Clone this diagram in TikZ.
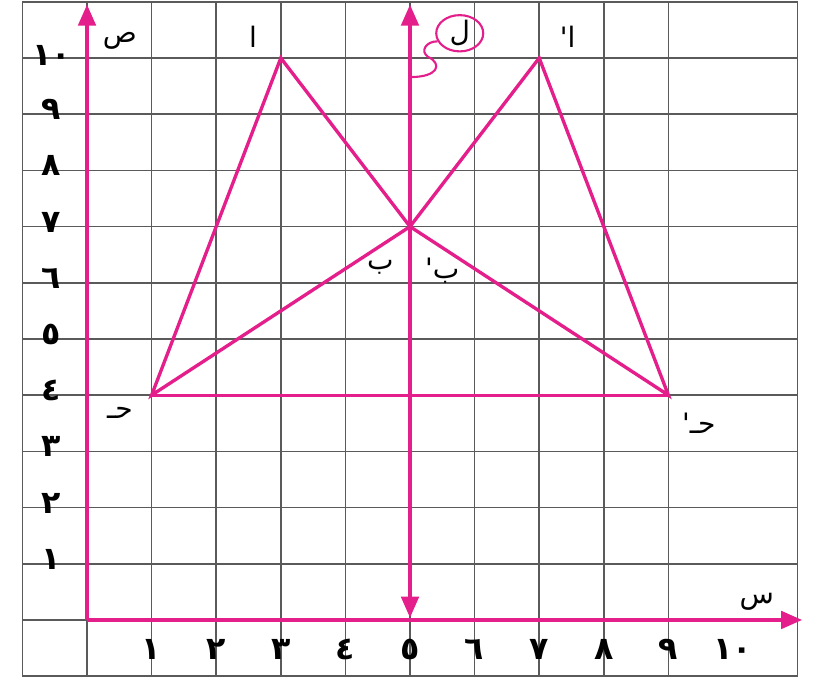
\documentclass[tikz,border=0pt]{standalone}
\usepackage{fontspec}
\newfontfamily\arabicfont[Script=Arabic]{DejaVu Sans}
\TeXXeTstate=1
\usetikzlibrary{arrows.meta,shapes.geometric}
\definecolor{magentaA}{RGB}{228,30,138}
\definecolor{gridgray}{RGB}{90,90,90}
\begin{document}
\begin{tikzpicture}[x=1.292cm,y=1.124cm,
  gridline/.style={draw=gridgray,line width=1pt},
  axisline/.style={draw=magentaA,line width=1.9pt},
  figline/.style={draw=magentaA,line width=1.9pt,line join=miter},
  tipA/.tip={Triangle[length=12pt,width=10pt]},
  digit/.style={font=\arabicfont\bfseries\fontsize{18}{18}\selectfont,inner sep=0pt},
  lbl/.style={font=\arabicfont\fontsize{16}{16}\selectfont,inner sep=0pt}]
\useasboundingbox (-1.347,-1.103) rectangle (11.254,11.032);
% grid
\foreach \y in {-1,...,11} \draw[gridline] (-1,\y) -- (11,\y);
\foreach \x in {-1,...,9,11} \draw[gridline] (\x,-1) -- (\x,11);
% points
\coordinate (A) at (3,10);
\coordinate (B) at (5,7);
\coordinate (C) at (1,4);
\coordinate (A1) at (7,10);
\coordinate (C1) at (9,4);
\coordinate (O) at (0,0);
\coordinate (ytop) at (0,10.95);
\coordinate (xend) at (11.07,0);
\coordinate (mtop) at (5,10.95);
\coordinate (mbot) at (5,0.04);
\coordinate (sq) at (5,9.66);
% triangles
\draw[figline] (A) -- (B) -- (C) -- cycle;
\draw[figline] (A1) -- (B) -- (C1) -- cycle;
\draw[figline] (C) -- (C1);
% axes
\draw[axisline,-tipA] (O) -- (ytop);
\draw[axisline,-tipA] (O) -- (xend);
\draw[axisline,tipA-tipA] (mbot) -- (mtop);
% mirror label
\node[draw=magentaA,line width=1.2pt,ellipse,minimum width=0.94cm,minimum height=0.68cm,
      inner sep=0pt,lbl] (L) at (5.77,10.44) {\beginR ل\endR};
\draw[draw=magentaA,line width=1.2pt] (sq) .. controls (5.45,9.66) and (5.5,9.9) .. (5.28,10.02)
   .. controls (5.15,10.12) and (5.25,10.3) .. (L.200);
% vertex labels
\node[lbl] (la) at (2.57,10.37) {\beginR ا\endR};
\node[lbl] (la1) at (7.44,10.37) {\beginR ا'\endR};
\node[lbl] (lb) at (4.54,6.28) {\beginR ب\endR};
\node[lbl] (lb1) at (5.5,6.22) {\beginR ب'\endR};
\node[lbl] (lc) at (0.51,3.68) {\beginR حـ\endR};
\node[lbl] (lc1) at (9.47,3.5) {\beginR حـ'\endR};
\node[lbl] (ls) at (0.51,10.3) {\beginR ص\endR};
\node[lbl] (lx) at (10.37,0.32) {\beginR س\endR};
% y digits
\foreach \v/\t in {1/١,2/٢,3/٣,4/٤,5/٥,6/٦,7/٧,8/٨,9/٩}
  \node[digit] (yd\v) at (-0.55,\v+0.08) {\t};
\node[digit] (yd10) at (-0.55,10.05) {١٠};
% x digits
\foreach \v/\t in {1/١,2/٢,3/٣,4/٤,5/٥,6/٦,7/٧,8/٨,9/٩}
  \node[digit] (xd\v) at (\v,-0.53) {\t};
\node[digit] (xd10) at (10,-0.53) {١٠};
\end{tikzpicture}
\end{document}
